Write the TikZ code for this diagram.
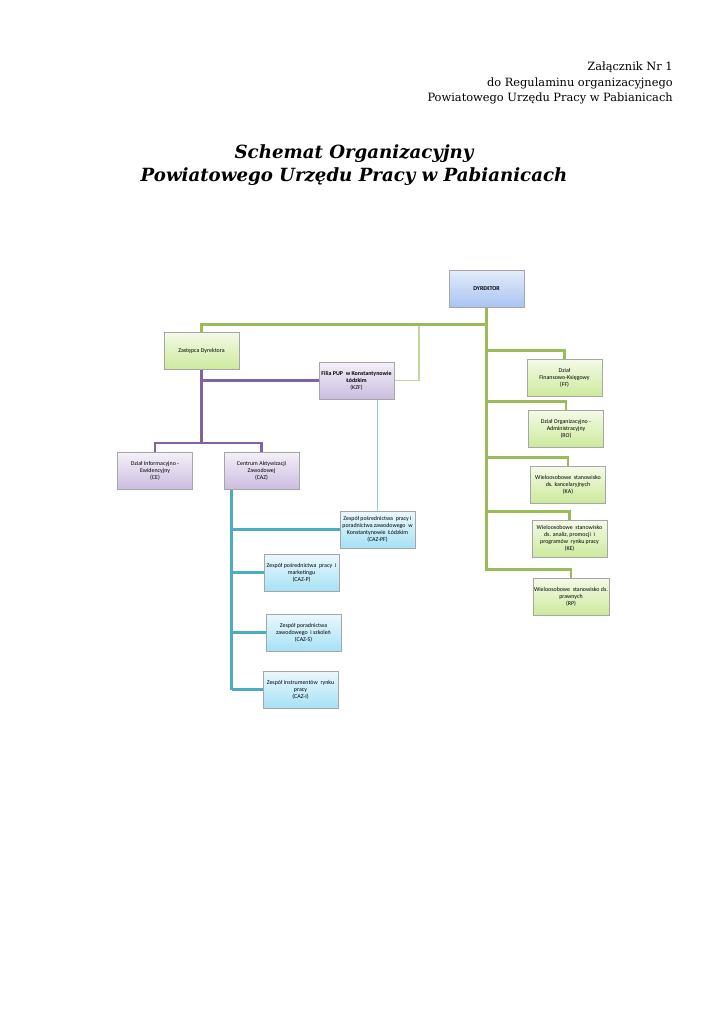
\documentclass[tikz,border=0pt]{standalone}
\usepackage{fontspec}
\setmainfont{DejaVu Serif}
\newfontfamily\boxfont{Carlito}
\usetikzlibrary{calc, shadows, backgrounds}
\definecolor{cgline}{HTML}{9BBB59}
\definecolor{cpline}{HTML}{8064A2}
\definecolor{ctline}{HTML}{4BACC6}
\definecolor{clgline}{HTML}{C3D69B}
\definecolor{clbline}{HTML}{92CDDC}
\definecolor{cborder}{HTML}{A6A6A6}
\definecolor{cblueT}{HTML}{E3ECFA}
\definecolor{cblueB}{HTML}{A9C4F2}
\definecolor{cgreenT}{HTML}{F4FAE8}
\definecolor{cgreenB}{HTML}{CDEA9C}
\definecolor{cpurpleT}{HTML}{F4F0F8}
\definecolor{cpurpleB}{HTML}{CBBDE0}
\definecolor{ccyanT}{HTML}{EBF8FD}
\definecolor{ccyanB}{HTML}{A6E1F5}
\tikzset{
  box/.style={draw=cborder, line width=0.4pt, top color=#1T, bottom color=#1B, align=center,
    minimum width=2.175cm, minimum height=1.07cm, inner sep=1pt,
    font=\boxfont\fontsize{4.9}{5.9}\selectfont,
    drop shadow={shadow xshift=0.7pt, shadow yshift=-0.7pt, opacity=0.45}},
  box/.default=cgreen,
  gline/.style={draw=cgline, line width=2.4pt},
  pline/.style={draw=cpline, line width=2.4pt},
  tline/.style={draw=ctline, line width=2.4pt},
  lgline/.style={draw=clgline, line width=1.2pt},
  lbline/.style={draw=clbline, line width=1.2pt},
  header/.style={font=\fontsize{9.4}{12.6}\selectfont, align=right},
  title/.style={font=\bfseries\itshape\fontsize{15}{18.5}\selectfont, align=center},
}

\begin{document}
\begin{tikzpicture}[x=0.029cm, y=-0.029cm]
  \useasboundingbox (0,0) rectangle (724,1024);
  \node[header, anchor=north east] (hdr) at (677,58) {Załącznik Nr 1\\do Regulaminu organizacyjnego\\Powiatowego Urzędu Pracy w Pabianicach};
  \node[title] (ttl) at (354,165) {Schemat Organizacyjny\\Powiatowego Urzędu Pracy w Pabianicach};

  % kierownictwo
  \node[box=cblue] (dyr) at (486.5,288.5) {\textbf{DYREKTOR}};
  \node[box=cgreen] (zast) at (201.5,350.5) {Zastępca Dyrektora};
  \node[box=cpurple] (filia) at (356.5,380.5) {\textbf{Filia PUP\ \ w Konstantynowie}\\\textbf{Łódzkim}\\(KZF)};
  \node[box=cpurple] (ce) at (155,471) {Dział Informacyjno -\\Ewidencyjny\\(CE)};
  \node[box=cpurple] (caz) at (261.5,470.5) {Centrum Aktywizacji\\Zawodowej\\(CAZ)};

  % zespoly CAZ
  \node[box=ccyan] (cazpf) at (377.5,529.5) {Zespół pośrednictwa\ \ pracy i\\poradnictwa zawodowego\ \ w\\Konstantynowie\ \ Łódzkim\\(CAZ-PF)};
  \node[box=ccyan] (cazp) at (301.5,572.5) {Zespół pośrednictwa\ \ pracy\ \ i\\marketingu\\(CAZ-P)};
  \node[box=ccyan] (cazs) at (303.5,632.5) {Zespół poradnictwa\\zawodowego\ \ i szkoleń\\(CAZ-S)};
  \node[box=ccyan] (cazi) at (300.5,689.5) {Zespół instrumentów\ \ rynku\\pracy\\(CAZ-I)};

  % komorki podlegle dyrektorowi
  \node[box=cgreen] (ff) at (564.5,377.5) {Dział\\Finansowo-Księgowy\\(FF)};
  \node[box=cgreen] (ro) at (566,428.5) {Dział Organizacyjno -\\Administracyjny\\(RO)};
  \node[box=cgreen] (ka) at (568,484.5) {Wieloosobowe\ \ stanowisko\\ds. kancelaryjnych\\(KA)};
  \node[box=cgreen] (ke) at (569.5,538.5) {Wieloosobowe\ \ stanowisko\\ds. analiz, promocji\ \ i\\programów\ \ rynku pracy\\(KE)};
  \node[box=cgreen] (rp) at (571,596.5) {Wieloosobowe\ \ stanowisko ds.\\prawnych\\(RP)};

  % polaczenia
  \coordinate (lgtop) at (419,325);
  \coordinate (pjoin) at (201.5,443);
  \coordinate (ctop) at ($(caz.south west)+(8,0)$);

  \begin{scope}[on background layer]
  \draw[lgline] (filia.east) -| (lgtop);
  \draw[lbline] (cazpf.north) -- (cazpf.north |- filia.south);
  \draw[gline] (zast.north) -- ++(0,-7) -| (dyr.south);
  \foreach \b in {ff,ro,ka,ke,rp}
    \draw[gline] (\b.north) -- ++(0,-8) -| (dyr.south);
  \draw[pline] (zast.south) -- (pjoin);
  \draw[pline] (zast.south |- filia.west) -- (filia.west);
  \draw[pline] (ce.north) |- (pjoin) -| (caz.north);
  \draw[tline] (ctop) -- (ctop |- cazi.west);
  \foreach \b in {cazpf,cazp,cazs,cazi}
    \draw[tline] (ctop |- \b.west) -- (\b.west);
  \end{scope}
\end{tikzpicture}
\end{document}
